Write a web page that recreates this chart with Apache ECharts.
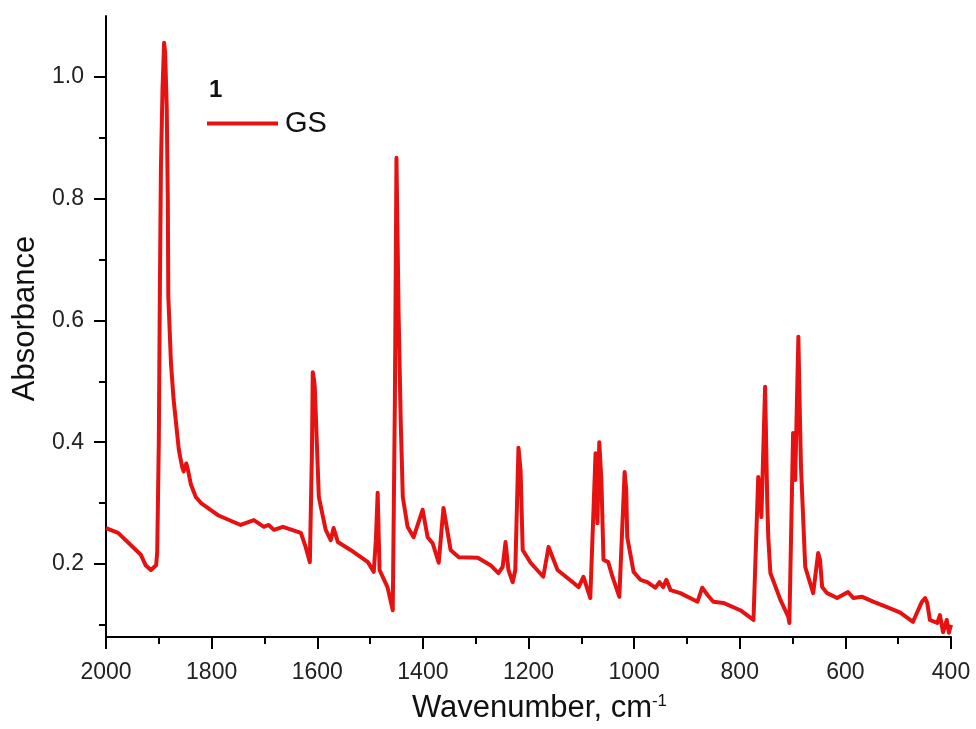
<!DOCTYPE html>
<html>
<head>
<meta charset="utf-8">
<script src="https://cdn.jsdelivr.net/npm/echarts@6/dist/echarts.min.js"></script>
<style>
html,body{margin:0;padding:0;background:#fff;}
#chart{width:976px;height:729px;}
</style>
</head>
<body>
<div id="chart"></div>
<script>
// Wavenumber (cm-1) and absorbance values
var wavenumbers = [2000,1977,1934,1925,1915,1905,1903,1900,1898,1896,1893,1890,1888,1885,1883,1882,1877,1872,1866,1862,1856,1853,1848,1845,1839,1830,1820,1788,1745,1720,1701,1692,1682,1665,1631,1622,1614,1610,1608.5,1606,1604.7,1601,1597,1584,1574.5,1569,1561,1537,1504,1493,1489,1485.6,1482,1467,1457,1453,1450,1446,1442,1438,1429,1417.5,1400.5,1391,1381.5,1370,1361,1347.5,1332,1296,1272,1257,1249,1243.5,1238,1230,1225,1219,1215,1211,1196,1172,1162,1145,1115,1105,1096,1083,1073,1069.5,1066,1062,1058,1049,1041,1028,1018,1015,1013,1001,988,975,960,952,945,939,931,912.5,880,871,861,850,831,799,774,770.7,765,761,759,752,748,746,742,723,708,706,699,695,689,686,684,676,661,651.5,648,644,634.5,615.6,595,585,568,547.5,521,496,472,455,449,445,440,426,421,415,408,404,400];
var absorbance = [0.259,0.251,0.215,0.198,0.190,0.198,0.220,0.400,0.650,0.850,0.980,1.056,1.040,0.950,0.800,0.640,0.530,0.470,0.420,0.387,0.360,0.352,0.365,0.355,0.330,0.310,0.300,0.280,0.264,0.272,0.261,0.264,0.256,0.261,0.251,0.228,0.203,0.387,0.515,0.502,0.491,0.404,0.310,0.256,0.239,0.259,0.236,0.223,0.203,0.187,0.239,0.317,0.190,0.162,0.124,0.469,0.867,0.612,0.437,0.310,0.261,0.244,0.289,0.244,0.234,0.202,0.292,0.223,0.211,0.210,0.198,0.185,0.195,0.236,0.190,0.170,0.190,0.391,0.354,0.223,0.202,0.179,0.228,0.190,0.169,0.162,0.179,0.144,0.382,0.267,0.400,0.338,0.207,0.203,0.179,0.146,0.351,0.322,0.244,0.187,0.174,0.170,0.161,0.170,0.162,0.174,0.157,0.152,0.138,0.161,0.149,0.138,0.136,0.124,0.108,0.105,0.343,0.305,0.277,0.491,0.305,0.244,0.185,0.141,0.113,0.103,0.415,0.338,0.573,0.437,0.359,0.195,0.152,0.218,0.207,0.162,0.152,0.144,0.154,0.144,0.146,0.138,0.129,0.120,0.105,0.138,0.144,0.136,0.108,0.103,0.116,0.088,0.108,0.087,0.100];
var xTickMajor = 200;
var xMinorValues = [1900,1700,1500,1300,1100,900,700,500];
var yLabelValues = [0.2,0.4,0.6,0.8,1.0];
var yMinorValues = [0.1,0.3,0.5,0.7,0.9];
var seriesName = 'GS';
var panelLabel = '1';

var FONT = '"Liberation Sans", Arial, sans-serif';
var data = wavenumbers.map(function(w,i){return [w, absorbance[i]];});

var chart = echarts.init(document.getElementById('chart'), null, {renderer:'canvas'});
chart.setOption({
  animation:false,
  backgroundColor:'#ffffff',
  title:{
    text:panelLabel, left:209, top:78, padding:0,
    textStyle:{fontFamily:FONT, fontSize:24, fontWeight:'bold', color:'#111'}
  },
  legend:{
    left:207, top:109, padding:0,
    icon:'rect', itemWidth:71, itemHeight:4, itemGap:10,
    data:[seriesName],
    textStyle:{fontFamily:FONT, fontSize:29, color:'#111', padding:[0,0,0,2]}
  },
  grid:{left:106, right:25, top:16, bottom:92, containLabel:false, outerBoundsMode:'none'},
  xAxis:[{
    type:'value', min:400, max:2000, interval:xTickMajor, inverse:true,
    name:'Wavenumber, cm{s|-1}',
    nameLocation:'middle', nameGap:56,
    nameTextStyle:{fontFamily:FONT, fontSize:31, color:'#111', padding:[0,0,0,22],
      rich:{s:{fontFamily:FONT, fontSize:17, color:'#111', verticalAlign:'top'}}},
    axisLine:{show:true, onZero:false, lineStyle:{color:'#000', width:2}},
    axisTick:{show:true, inside:false, length:12, lineStyle:{color:'#000', width:2}},
    axisLabel:{show:true, margin:24, fontFamily:FONT, fontSize:23, color:'#222',
      formatter:function(v){return String(v);}},
    splitLine:{show:false}
  },{
    type:'value', min:400, max:2000, inverse:true, position:'bottom',
    axisLine:{show:false, onZero:false},
    axisTick:{show:true, inside:false, length:7, customValues:xMinorValues, lineStyle:{color:'#000', width:2}},
    axisLabel:{show:false},
    splitLine:{show:false}
  }],
  yAxis:[{
    type:'value', min:0.08, max:1.10,
    name:'Absorbance', nameLocation:'middle', nameGap:58, nameRotate:90,
    nameTextStyle:{fontFamily:FONT, fontSize:31, color:'#111', padding:[0,0,0,16]},
    axisLine:{show:true, onZero:false, lineStyle:{color:'#000', width:2}},
    axisTick:{show:true, inside:false, length:12, customValues:yLabelValues, lineStyle:{color:'#000', width:2}},
    axisLabel:{show:true, margin:22, customValues:yLabelValues, fontFamily:FONT, fontSize:23, color:'#222',
      formatter:function(v){return v.toFixed(1);}},
    splitLine:{show:false}
  },{
    type:'value', min:0.08, max:1.10, position:'left',
    axisLine:{show:false},
    axisTick:{show:true, inside:false, length:7, customValues:yMinorValues, lineStyle:{color:'#000', width:2}},
    axisLabel:{show:false},
    splitLine:{show:false}
  }],
  series:[{
    name:seriesName, type:'line', data:data, showSymbol:false, symbol:'none',
    smooth:false, color:'#e61212',
    lineStyle:{color:'#e61212', width:4, join:'round'},
    itemStyle:{color:'#e61212'}
  }]
});
</script>
</body>
</html>
